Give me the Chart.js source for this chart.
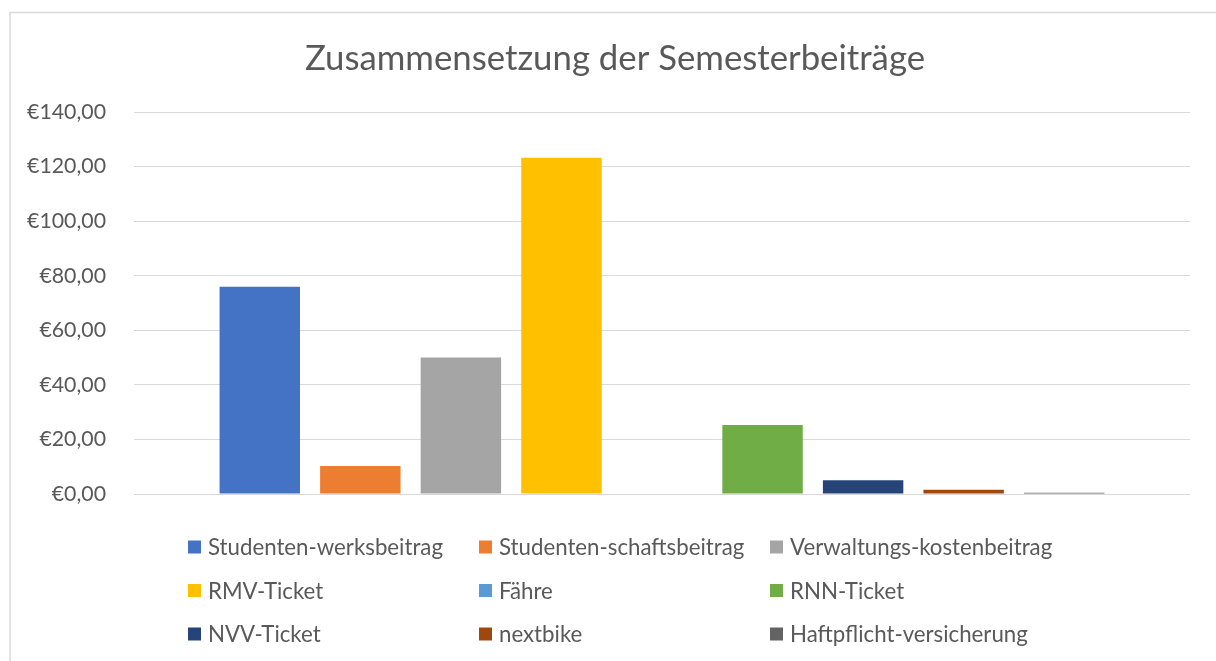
<!DOCTYPE html>
<html>
<head>
<meta charset="utf-8">
<script src="https://cdn.jsdelivr.net/npm/chart.js@4.4.1/dist/chart.umd.min.js"></script>
<style>
  html, body { margin: 0; padding: 0; background: #ffffff; }
  #wrap { width: 1216px; height: 661px; }
</style>
</head>
<body>
<div id="wrap"><canvas id="c" width="1216" height="661"></canvas></div>
<script>
const categories = [''];
const seriesNames = [
  'Studenten-werksbeitrag', 'Studenten-schaftsbeitrag', 'Verwaltungs-kostenbeitrag',
  'RMV-Ticket', 'Fähre', 'RNN-Ticket',
  'NVV-Ticket', 'nextbike', 'Haftpflicht-versicherung'
];
const seriesValues = [76.0, 10.25, 50.0, 123.2, 0, 25.25, 5.0, 1.6, 0.5];
const seriesColors = ['#4472C4', '#ED7D31', '#A5A5A5', '#FFC000', '#5B9BD5', '#70AD47', '#264478', '#9E480E', '#636363'];
const yTicks = [0, 20, 40, 60, 80, 100, 120, 140];
const titleText = 'Zusammensetzung der Semesterbeiträge';

const FONT = 'Lato, "Open Sans", "Noto Sans", sans-serif';
const TEXT_COLOR = '#595959';

function fitSize(text, targetWidth) {
  const ctx = document.createElement('canvas').getContext('2d');
  ctx.font = '100px ' + FONT;
  return 100 * targetWidth / ctx.measureText(text).width;
}
const titleSize = fitSize(titleText, 620);
const tickSize = fitSize('€140,00', 79);
const legendSize = fitSize('Studenten-werksbeitrag', 235);

function fmtEuro(v) {
  return '€' + Number(v).toFixed(2).replace('.', ',');
}

const frame = {
  id: 'frame',
  beforeDraw(chart) {
    const ctx = chart.ctx;
    ctx.save();
    ctx.fillStyle = '#ffffff';
    ctx.fillRect(0, 0, chart.width, chart.height);
    ctx.strokeStyle = '#d9d9d9';
    ctx.lineWidth = 1.5;
    ctx.beginPath();
    ctx.moveTo(10, chart.height);
    ctx.lineTo(10, 12.5);
    ctx.lineTo(chart.width, 12.5);
    ctx.stroke();
    ctx.restore();
  }
};

const chartTitle = {
  id: 'chartTitle',
  afterDraw(chart) {
    const ctx = chart.ctx;
    ctx.save();
    ctx.font = titleSize.toFixed(2) + 'px ' + FONT;
    ctx.fillStyle = TEXT_COLOR;
    ctx.textAlign = 'center';
    ctx.textBaseline = 'middle';
    ctx.fillText(titleText, 615, 59);
    ctx.restore();
  }
};

const gridLegend = {
  id: 'gridLegend',
  afterDraw(chart) {
    const ctx = chart.ctx;
    ctx.save();
    ctx.font = legendSize.toFixed(2) + 'px ' + FONT;
    ctx.textBaseline = 'middle';
    ctx.textAlign = 'left';
    chart.data.datasets.forEach((ds, i) => {
      const col = i % 3, row = Math.floor(i / 3);
      const x = 188 + col * 291;
      const yc = 547 + row * 43.5;
      ctx.fillStyle = ds.backgroundColor;
      ctx.fillRect(x, yc - 6.5, 13, 13);
      ctx.fillStyle = TEXT_COLOR;
      ctx.fillText(ds.label, x + 20, yc + 1);
    });
    ctx.restore();
  }
};

const datasets = seriesNames.map((name, i) => ({
  label: name,
  data: [seriesValues[i]],
  backgroundColor: seriesColors[i],
  borderWidth: 0,
  categoryPercentage: 0.857,
  barPercentage: 0.8
}));

new Chart(document.getElementById('c'), {
  type: 'bar',
  data: { labels: categories, datasets },
  options: {
    responsive: false,
    animation: false,
    layout: { padding: { left: 16, right: 26, top: 112, bottom: 167 } },
    plugins: {
      legend: { display: false },
      tooltip: { enabled: false },
      title: { display: false }
    },
    scales: {
      x: { display: false },
      y: {
        min: 0,
        max: 140,
        afterBuildTicks(scale) { scale.ticks = yTicks.map(v => ({ value: v })); },
        afterFit(scale) { scale.width = 118; },
        border: { display: false },
        grid: { color: '#d9d9d9', lineWidth: 1, drawTicks: false },
        ticks: {
          padding: 28,
          color: TEXT_COLOR,
          font: { family: FONT, size: tickSize },
          callback: (v) => fmtEuro(v)
        }
      }
    }
  },
  plugins: [frame, chartTitle, gridLegend]
});
</script>
</body>
</html>
